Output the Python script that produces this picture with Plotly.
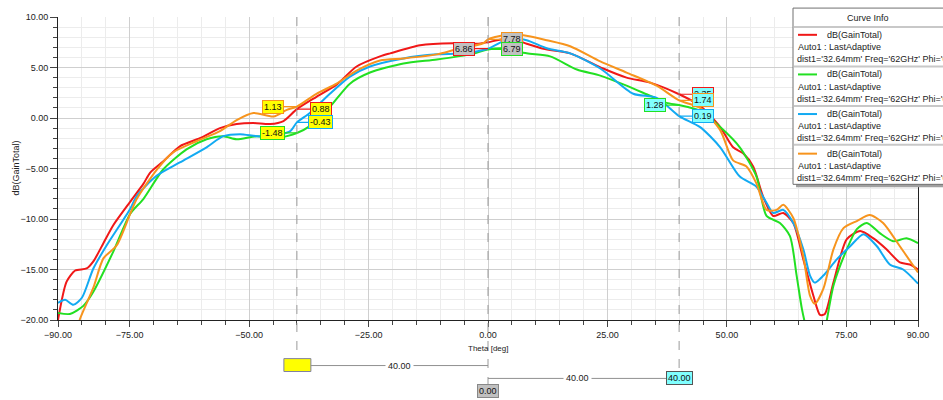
import plotly.graph_objects as go

# ---------------- data ----------------
red_theta = [-90, -88.2, -86.4, -84, -82.6, -80.5, -78.4, -74.9, -72.1, -70.7, -68, -64.5, -60.3, -56.1, -52.6,
             -49.1, -45.6, -42.8, -40, -35.9, -31.7, -27.5, -22.6, -20.5, -14.2, -7.3, -2.4, 0, 4.6, 8.1, 11.6,
             17.2, 24.1, 29, 33.9, 40, 44.4, 48.6, 51.3, 53.4, 55.5, 57.6, 59.7, 61.8, 63.9, 66, 68.1, 69.5,
             70.5, 72.3, 75.1, 77.9, 80.6, 83.4, 86.2, 88.3, 90]
red_db = [-20.0, -16.2, -15.1, -14.9, -14.2, -12.4, -10.6, -8.3, -6.5, -5.4, -4.3, -2.8, -2.0, -1.0, -0.6,
          -0.5, -0.6, -0.3, 0.88, 2.1, 3.3, 5.1, 6.1, 6.4, 7.2, 7.4, 7.35, 7.5, 7.9, 7.35, 6.85,
          6.4, 4.9, 4.0, 3.5, 2.35, 1.2, -0.9, -2.9, -3.5, -4.8, -7.8, -9.7, -9.4, -10.4, -14.0, -17.6, -19.5,
          -19.4, -16.3, -12.0, -11.2, -11.9, -13.0, -14.3, -14.5, -15.0]

green_theta = [-90, -87.5, -84.7, -82.6, -78.4, -74.9, -72.1, -68, -63.1, -58.9, -55.4, -52.6, -48.4, -44.2,
               -40, -37.3, -33.1, -28.9, -24.7, -17.7, -10.7, -3.8, 0, 3.2, 8.1, 13, 18.6, 23.5, 29, 33.9,
               37.4, 40, 44.4, 48.6, 52.7, 56.2, 58.3, 61.1, 63.2, 64.6, 65.7, 66.7, 68.5, 70.5, 72.3, 75.1,
               77.2, 79.3, 82, 84.8, 87.6, 90]
green_db = [-19.3, -19.4, -18.6, -17.2, -13.2, -9.5, -8.0, -5.1, -3.1, -2.1, -1.8, -2.1, -1.8, -2.0,
            -1.48, -0.8, 1.1, 3.4, 4.5, 5.4, 5.8, 6.3, 6.79, 6.9, 6.4, 6.1, 4.8, 4.2, 3.2, 2.2,
            1.5, 1.28, 0.7, -0.9, -2.9, -5.8, -9.7, -10.4, -11.7, -15.6, -18.9, -21.0, -24.0, -21.0, -16.6, -13.0,
            -11.0, -10.4, -11.4, -12.2, -11.9, -12.4]

blue_theta = [-90, -88.5, -86.8, -85, -82.6, -79.8, -74.9, -73.5, -69.3, -64.5, -58.9, -55.4, -51.9, -48.4,
              -44.9, -41.4, -40, -37.3, -33.1, -28.9, -24.7, -17.7, -10.7, -5.2, 0, 4.6, 8.1, 12.3, 17.2,
              23.5, 30.4, 35.3, 40, 44.4, 48.6, 52.7, 56.2, 58.3, 59.7, 61.8, 63.9, 66, 67.4, 68.4, 70.2, 73,
              75.8, 78.6, 81.4, 84.1, 86.9, 90]
blue_db = [-18.3, -18.0, -18.5, -17.8, -14.9, -12.6, -9.0, -7.7, -5.7, -4.4, -2.9, -1.8, -1.6, -1.8,
           -1.8, -1.3, -0.43, 0.5, 2.4, 4.1, 5.1, 5.9, 6.3, 6.4, 6.86, 7.9, 7.7, 6.9, 6.4,
           4.9, 2.4, 2.0, 0.19, -0.9, -2.9, -5.8, -6.8, -8.4, -9.4, -9.1, -10.4, -13.0, -15.6, -16.3, -15.6, -14.0,
           -12.7, -11.5, -12.7, -14.5, -15.0, -16.4]

orange_theta = [-87, -85.4, -82.6, -80.5, -77.7, -74.9, -73.5, -69.3, -65.9, -61, -56.1, -52.6, -49.1, -44.9,
                -42.1, -40, -35.9, -31.7, -27.5, -22.6, -17.7, -10.7, -6.6, -1, 0, 3.2, 7.4, 12.3, 17.2, 23.5,
                29, 35.3, 40, 44.4, 48.6, 51.3, 54.1, 56.2, 58.3, 60.4, 61.8, 63.9, 66, 67.4, 68.4, 70.2, 72.3,
                74.4, 77.2, 79.9, 82.7, 86.2, 90]
orange_db = [-22.5, -19.9, -16.8, -13.9, -12.6, -9.5, -8.0, -5.1, -3.4, -2.3, -1.3, -0.2, 0.5, 0.15,
             0.8, 1.13, 2.4, 3.4, 4.7, 5.7, 5.9, 6.3, 6.8, 7.4, 7.78, 8.2, 8.2, 7.7, 7.1, 5.6,
             4.5, 3.2, 1.74, 1.0, -1.2, -4.2, -4.8, -6.5, -9.1, -9.1, -8.6, -9.9, -13.7, -17.6, -18.4, -16.9, -13.0,
             -10.9, -10.2, -9.6, -10.4, -12.7, -15.3]

curve_names = ["dB(GainTotal)"] * 4
curve_setup = "Auto1 : LastAdaptive"
curve_vars = "dist1='32.64mm' Freq='62GHz' Phi='0deg'"

x_tickvals = [-90, -75, -50, -25, 0, 25, 50, 75, 90]
y_tickvals = [-20, -15, -10, -5, 0, 5, 10]

marker_x = [-40, 0, 40]
# (value, curve index, side)  curve index: 0 red, 1 green, 2 blue, 3 orange
marker_vals = [
    [(1.13, 3, -1), (0.88, 0, 1), (-0.43, 2, 1), (-1.48, 1, -1)],
    [(6.86, 0, -1), (7.78, 3, 1), (6.79, 1, 1)],
    [(2.35, 0, 1), (1.74, 3, 1), (1.28, 1, -1), (0.19, 2, 1)],
]

# ---------------- style ----------------
colors = ["#f01818", "#22e022", "#12aaf2", "#f7941d"]
marker_fill = ["#ffff00", "#c0c0c0", "#80ffff"]
FONT = "Liberation Sans, Arial, sans-serif"

W, H = 943, 400
L, R, T, B = 58, 25, 14, 80


def pxx(x):
    return (x - L) / (W - L - R)


def pxy(y):
    return (H - B - y) / (H - T - B)


fig = go.Figure()
for th, db, c in zip([red_theta, green_theta, blue_theta, orange_theta],
                     [red_db, green_db, blue_db, orange_db], colors):
    fig.add_trace(go.Scatter(x=th, y=db, mode="lines",
                             line=dict(color=c, width=2, shape="spline", smoothing=0.7),
                             hoverinfo="skip", showlegend=False))

shapes = []
annotations = []


def note(**kw):
    kw.setdefault("showarrow", False)
    kw.setdefault("xanchor", "center")
    kw.setdefault("yanchor", "middle")
    annotations.append(kw)


# marker dashed lines
bottoms = [pxy(360), pxy(385), pxy(372)]
for mx, yb in zip(marker_x, bottoms):
    shapes.append(dict(type="line", xref="x", yref="paper", x0=mx, x1=mx, y0=1, y1=yb,
                       line=dict(color="#9a9a9a", width=1, dash="dash"), layer="above"))

# marker labels
for mi, (mx, vals) in enumerate(zip(marker_x, marker_vals)):
    for (v, ci, side) in vals:
        annotations.append(dict(x=mx, y=v, xref="x", yref="y", text=f"{v:.2f}",
                                showarrow=True, arrowhead=0, arrowwidth=1.2, arrowcolor=colors[ci],
                                ax=24 * side, ay=0, bgcolor=marker_fill[mi], bordercolor=colors[ci],
                                borderwidth=1, borderpad=1,
                                font=dict(family=FONT, size=9, color="#111")))

# delta markers at bottom
yl1 = pxy(366)
yl2 = pxy(379)
shapes.append(dict(type="rect", xref="x", yref="paper", xsizemode="pixel", xanchor=marker_x[0],
                   x0=-13, x1=14, y0=pxy(372), y1=pxy(359), fillcolor="#ffff00",
                   line=dict(color="#8080a0", width=1)))
shapes.append(dict(type="line", xref="x", yref="paper", x0=marker_x[0] + 2.9, x1=marker_x[1],
                   y0=yl1, y1=yl1, line=dict(color="#909090", width=1)))
shapes.append(dict(type="line", xref="x", yref="paper", x0=marker_x[1], x1=marker_x[2] - 2.4,
                   y0=yl2, y1=yl2, line=dict(color="#909090", width=1)))
note(x=(marker_x[0] + 2.9 + marker_x[1]) / 2, y=yl1, xref="x", yref="paper",
     text=f"{marker_x[1] - marker_x[0]:.2f}", bgcolor="white",
     font=dict(family=FONT, size=9, color="#222"), borderpad=2)
note(x=(marker_x[1] + marker_x[2] - 2.4) / 2, y=yl2, xref="x", yref="paper",
     text=f"{marker_x[2] - marker_x[1]:.2f}", bgcolor="white",
     font=dict(family=FONT, size=9, color="#222"), borderpad=2)
note(x=marker_x[2], y=yl2, xref="x", yref="paper",
     text=f"{marker_x[2]:.2f}", bgcolor="#80ffff",
     bordercolor="#555", borderwidth=1, borderpad=1,
     font=dict(family=FONT, size=9, color="#111"))
note(x=marker_x[1], y=pxy(391.5), xref="x", yref="paper",
     text=f"{marker_x[1]:.2f}", bgcolor="#c0c0c0",
     bordercolor="#888", borderwidth=1, borderpad=1,
     font=dict(family=FONT, size=9, color="#111"))

# axis titles
note(x=pxx(15), y=pxy(167), xref="paper", yref="paper", text="dB(GainTotal)",
     textangle=-90, font=dict(family=FONT, size=9, color="#222"))
note(x=0, y=pxy(349), xref="x", yref="paper", text="Theta [deg]",
     font=dict(family=FONT, size=8, color="#222"))

# Curve Info box
shapes.append(dict(type="rect", xref="paper", yref="paper", x0=pxx(796), x1=pxx(950),
                   y0=pxy(186), y1=pxy(7), fillcolor="#a0a0a0", line=dict(width=0), layer="above"))
shapes.append(dict(type="rect", xref="paper", yref="paper", x0=pxx(793), x1=pxx(950),
                   y0=pxy(183), y1=pxy(5), fillcolor="white", line=dict(color="#707070", width=1),
                   layer="above"))
for sy in [24, 64, 104, 143]:
    shapes.append(dict(type="line", xref="paper", yref="paper", x0=pxx(794), x1=pxx(950),
                       y0=pxy(sy), y1=pxy(sy), line=dict(color="#c8c8c8", width=2), layer="above"))
note(x=pxx(868), y=pxy(15), xref="paper", yref="paper", text="Curve Info",
     font=dict(family=FONT, size=9, color="#222"))
for i, (c, nm) in enumerate(zip(colors, curve_names)):
    oy = 40 * i
    shapes.append(dict(type="line", xref="paper", yref="paper", x0=pxx(798), x1=pxx(817),
                       y0=pxy(32 + oy), y1=pxy(32 + oy), line=dict(color=c, width=2), layer="above"))
    note(x=pxx(825), y=pxy(32 + oy), xref="paper", yref="paper", text=nm, xanchor="left",
         font=dict(family=FONT, size=9, color="#222"))
    note(x=pxx(796), y=pxy(44.5 + oy), xref="paper", yref="paper", text=curve_setup, xanchor="left",
         font=dict(family=FONT, size=9, color="#222"))
    note(x=pxx(795), y=pxy(56.5 + oy), xref="paper", yref="paper", text=curve_vars, xanchor="left",
         font=dict(family=FONT, size=9, color="#222"))

fig.update_layout(
    width=W, height=H,
    margin=dict(l=L, r=R, t=T, b=B),
    paper_bgcolor="white", plot_bgcolor="white",
    font=dict(family=FONT, size=9, color="#222"),
    shapes=shapes, annotations=annotations,
    xaxis=dict(range=[-90, 90], tickvals=x_tickvals, tickformat=".2f",
               showline=True, linecolor="#222", linewidth=1, ticks="outside", ticklen=6,
               tickcolor="#444", showgrid=True, gridcolor="#cfcfcf", zeroline=False,
               minor=dict(dtick=5, tick0=0, showgrid=True, gridcolor="#ececec",
                          ticks="outside", ticklen=4, tickcolor="#444"),
               tickfont=dict(size=9)),
    yaxis=dict(range=[-20, 10], tickvals=y_tickvals, tickformat=".2f",
               showline=True, linecolor="#222", linewidth=1, ticks="outside", ticklen=7,
               tickcolor="#444", showgrid=True, gridcolor="#cfcfcf", zeroline=False,
               mirror=True,
               minor=dict(dtick=1, tick0=0, showgrid=True, gridcolor="#ececec",
                          ticks="outside", ticklen=4, tickcolor="#444"),
               tickfont=dict(size=9)),
)

fig.write_html("out.html")
